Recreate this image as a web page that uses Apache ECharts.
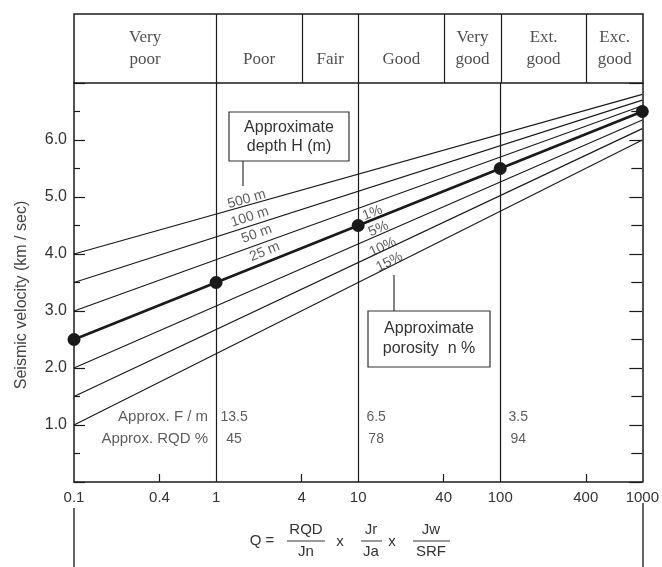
<!DOCTYPE html>
<html>
<head>
<meta charset="utf-8">
<script src="https://cdn.jsdelivr.net/npm/echarts@6/dist/echarts.min.js"></script>
<style>
  html, body { margin: 0; padding: 0; background: #fff; }
  #chart { width: 662px; height: 567px; }
</style>
</head>
<body>
<div id="chart"></div>
<script>
// rock mass classes (Q ranges) in the header strip
var classNames = ['Very\npoor', 'Poor', 'Fair', 'Good', 'Very\ngood', 'Ext.\ngood', 'Exc.\ngood'];
var classBounds = [0.1, 1, 4, 10, 40, 100, 400, 1000];

// axis ticks
var qLabels = [0.1, 0.4, 1, 4, 10, 40, 100, 400, 1000];
var qMinor = [0.4, 4, 40, 400];
var vLabels = [1, 2, 3, 4, 5, 6];
var qDividers = [1, 10, 100];

// main line: Vp vs Q (25 m depth / 1% porosity)
var mainQ = [0.1, 1, 10, 100, 1000];
var mainVp = [2.5, 3.5, 4.5, 5.5, 6.5];

// depth lines, Vp at Q = 0.1 and Q = 1000
var depthNames = ['500 m', '100 m', '50 m'];
var depthStart = [4.0, 3.5, 3.0];
var depthEnd = [6.8, 6.7, 6.6];

// porosity lines, Vp at Q = 0.1 and Q = 1000
var porosityNames = ['5%', '10%', '15%'];
var porosityStart = [2.0, 1.5, 1.0];
var porosityEnd = [6.35, 6.2, 6.0];

// approx. fractures per metre and RQD at Q = 1, 10, 100
var tableQ = [1, 10, 100];
var fPerM = ['13.5', '6.5', '3.5'];
var rqdPct = ['45', '78', '94'];
var rowNames = ['Approx. F / m', 'Approx. RQD %'];

// where the line labels sit (Q, Vp) and their tilt
var lineLabels = ['500 m', '100 m', '50 m', '25 m', '1%', '5%', '10%', '15%'];
var lineLabelAt = [[1.64, 4.96], [1.73, 4.65], [1.93, 4.35], [2.2, 4.04],
                   [12.6, 4.72], [13.9, 4.44], [14.9, 4.12], [16.6, 3.86]];
var lineLabelRot = [16, 18, 20, 22, 22, 24, 25, 27];

var sans = '"Liberation Sans", Arial, sans-serif';
var ink = '#1a1a1a';

var chart = echarts.init(document.getElementById('chart'), null, {renderer: 'canvas'});

function straight(name, a, b) {
    return {
        name: name,
        type: 'line',
        data: [[0.1, a], [1000, b]],
        symbol: 'none',
        silent: true,
        lineStyle: {color: ink, width: 1.2}
    };
}

var series = [];

// header labels + class dividers
series.push({
    type: 'scatter',
    xAxisIndex: 1,
    yAxisIndex: 2,
    symbolSize: 0,
    silent: true,
    data: classNames.map(function (n, i) {
        return [Math.sqrt(classBounds[i] * classBounds[i + 1]), 0.174, n];
    }),
    label: {
        show: true,
        position: 'top',
        distance: 0,
        formatter: function (p) { return p.data[2]; },
        fontFamily: '"Liberation Serif", "Times New Roman", serif',
        fontSize: 17,
        lineHeight: 22,
        color: '#222'
    },
    markLine: {
        silent: true,
        symbol: ['none', 'none'],
        label: {show: false},
        lineStyle: {type: 'solid', color: ink, width: 1.2},
        data: classBounds.slice(1, -1).map(function (q) { return {xAxis: q}; })
    }
});

depthNames.forEach(function (n, i) {
    series.push(straight(n, depthStart[i], depthEnd[i]));
});
porosityNames.forEach(function (n, i) {
    series.push(straight(n, porosityStart[i], porosityEnd[i]));
});

series.push({
    name: 'main',
    type: 'line',
    data: mainQ.map(function (q, i) { return [q, mainVp[i]]; }),
    symbol: 'circle',
    symbolSize: 13,
    silent: true,
    z: 5,
    lineStyle: {color: ink, width: 2.6},
    itemStyle: {color: ink},
    markLine: {
        silent: true,
        symbol: ['none', 'none'],
        label: {show: false},
        lineStyle: {type: 'solid', color: ink, width: 1.2},
        data: qDividers.map(function (q) { return {xAxis: q}; })
    }
});

// labels along the lines
series.push({
    type: 'scatter',
    symbolSize: 0,
    silent: true,
    z: 6,
    data: lineLabels.map(function (t, i) {
        return {
            value: [lineLabelAt[i][0], lineLabelAt[i][1], t],
            label: {rotate: lineLabelRot[i]}
        };
    }),
    label: {
        show: true,
        position: 'inside',
        formatter: function (p) { return p.data.value[2]; },
        fontFamily: sans,
        fontSize: 14,
        color: '#333'
    }
});

// F/m and RQD values
series.push({
    type: 'scatter',
    symbolSize: 0,
    silent: true,
    data: tableQ.map(function (q, i) { return [q, 1.14, fPerM[i]]; })
        .concat(tableQ.map(function (q, i) { return [q, 0.754, rqdPct[i]]; })),
    label: {
        show: true,
        position: 'inside',
        offset: [18, 0],
        formatter: function (p) { return p.data[2]; },
        fontFamily: sans,
        fontSize: 14,
        color: '#333'
    }
});
series.push({
    type: 'scatter',
    symbolSize: 0,
    silent: true,
    data: [[1, 1.14, rowNames[0]], [1, 0.754, rowNames[1]]],
    label: {
        show: true,
        position: 'left',
        distance: 8,
        formatter: function (p) { return p.data[2]; },
        fontFamily: sans,
        fontSize: 15,
        color: '#333'
    }
});

function frac(cx, top, bottom, x0, x1) {
    var st = {font: '15px ' + sans, fill: '#333', align: 'center', verticalAlign: 'middle'};
    return [
        {type: 'text', x: cx, y: 530, style: Object.assign({text: top}, st)},
        {type: 'line', shape: {x1: x0, y1: 541, x2: x1, y2: 541}, style: {stroke: '#333', lineWidth: 1}},
        {type: 'text', x: cx, y: 552, style: Object.assign({text: bottom}, st)}
    ];
}

var formulaStyle = {font: '15px ' + sans, fill: '#333', align: 'center', verticalAlign: 'middle'};

var graphic = [
    {type: 'text', x: 22, y: 295, rotation: Math.PI / 2,
     style: {text: 'Seismic velocity (km / sec)', font: '16px ' + sans, fill: '#444', align: 'center', verticalAlign: 'middle'}},
    {type: 'rect', shape: {x: 229, y: 112, width: 120, height: 49}, style: {fill: '#fff', stroke: '#333', lineWidth: 1.2}},
    {type: 'text', x: 289, y: 137, style: {text: 'Approximate\ndepth H (m)', font: '16px ' + sans, lineHeight: 19, fill: '#333', align: 'center', verticalAlign: 'middle'}},
    {type: 'line', shape: {x1: 243, y1: 161, x2: 243, y2: 186}, style: {stroke: '#333', lineWidth: 1.2}},
    {type: 'rect', shape: {x: 368, y: 311, width: 122, height: 56}, style: {fill: '#fff', stroke: '#333', lineWidth: 1.2}},
    {type: 'text', x: 429, y: 339, style: {text: 'Approximate\nporosity  n %', font: '16px ' + sans, lineHeight: 20, fill: '#333', align: 'center', verticalAlign: 'middle'}},
    {type: 'line', shape: {x1: 394, y1: 275, x2: 394, y2: 311}, style: {stroke: '#333', lineWidth: 1.2}},
    {type: 'text', x: 262, y: 541, style: Object.assign({text: 'Q ='}, formulaStyle)},
    {type: 'text', x: 340, y: 542, style: Object.assign({text: 'x'}, formulaStyle)},
    {type: 'text', x: 392, y: 542, style: Object.assign({text: 'x'}, formulaStyle)},
    {type: 'line', shape: {x1: 74, y1: 508, x2: 74, y2: 567}, style: {stroke: '#333', lineWidth: 1.5}},
    {type: 'line', shape: {x1: 643, y1: 503, x2: 643, y2: 567}, style: {stroke: '#333', lineWidth: 1.5}}
].concat(frac(306, 'RQD', 'Jn', 287, 325), frac(371, 'Jr', 'Ja', 361, 382), frac(431, 'Jw', 'SRF', 413, 450));

var option = {
    animation: false,
    backgroundColor: '#fff',
    textStyle: {fontFamily: sans},
    grid: [
        {left: 74, right: 19, top: 83, bottom: 85},
        {left: 74, right: 19, top: 14, height: 69, show: true, borderColor: ink, borderWidth: 1.5}
    ],
    xAxis: [
        {
            type: 'log', logBase: 10, min: 0.1, max: 1000, gridIndex: 0,
            axisLine: {lineStyle: {color: ink, width: 1.5}},
            axisTick: {inside: true, length: 8, customValues: qMinor, lineStyle: {color: ink, width: 1.2}},
            axisLabel: {customValues: qLabels, margin: 8, fontSize: 15, color: '#333',
                        formatter: function (v) { return String(v); }},
            splitLine: {show: false}
        },
        {type: 'log', logBase: 10, min: 0.1, max: 1000, gridIndex: 1, show: false}
    ],
    yAxis: [
        {
            type: 'value', min: 0, max: 7, interval: 1, gridIndex: 0,
            axisLine: {show: true, lineStyle: {color: ink, width: 1.5}},
            axisTick: {show: true, inside: true, length: 11, lineStyle: {color: ink, width: 1.2}},
            minorTick: {show: true, splitNumber: 2, length: 6, lineStyle: {color: ink, width: 1.2}},
            axisLabel: {customValues: vLabels, margin: 7, fontSize: 16, color: '#333',
                        formatter: function (v) { return v.toFixed(1); }},
            splitLine: {show: false}
        },
        {
            type: 'value', min: 0, max: 7, interval: 1, gridIndex: 0, position: 'right',
            axisLine: {show: true, lineStyle: {color: ink, width: 1.5}},
            axisTick: {show: true, inside: true, length: 13, lineStyle: {color: ink, width: 1.2}},
            minorTick: {show: true, splitNumber: 2, length: 11, lineStyle: {color: ink, width: 1.2}},
            axisLabel: {show: false},
            splitLine: {show: false}
        },
        {type: 'value', min: 0, max: 1, gridIndex: 1, show: false}
    ],
    series: series,
    graphic: graphic
};

chart.setOption(option);
</script>
</body>
</html>
